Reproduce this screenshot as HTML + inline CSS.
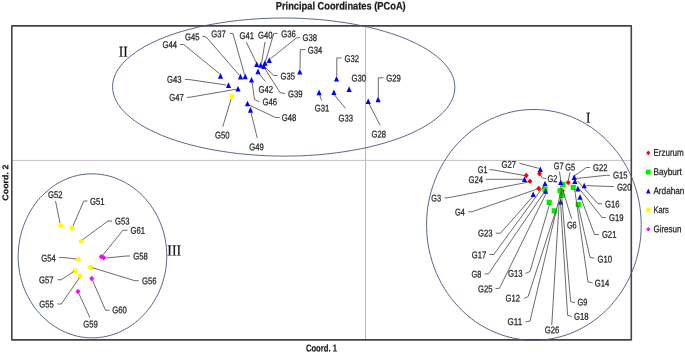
<!DOCTYPE html>
<html><head><meta charset="utf-8"><title>Principal Coordinates (PCoA)</title>
<style>html,body{margin:0;padding:0;background:#fff;}body{width:685px;height:353px;overflow:hidden;font-family:"Liberation Sans",sans-serif;}svg{display:block;}text{font-family:"Liberation Sans",sans-serif;text-rendering:geometricPrecision;}</style></head><body>
<svg width="685" height="353" viewBox="0 0 685 353" style="will-change:transform;transform:translateZ(0)">
<rect x="0" y="0" width="685" height="353" fill="#ffffff"/>
<g stroke-width="1" fill="none"><line x1="365.6" y1="26" x2="365.6" y2="339" stroke="#b8b8b8"/><line x1="12" y1="160.4" x2="631" y2="160.4" stroke="#c2c2c2"/></g>
<rect x="11.8" y="25.9" width="619.5" height="314.0" fill="none" stroke="#444444" stroke-width="1.6" stroke-linejoin="round"/>
<g fill="none" stroke="#46567f" stroke-width="0.9" stroke-linejoin="round">
<path d="M112.6 86.8 L112.8 83.1 L113.5 79.5 L114.7 76.0 L116.3 72.4 L118.5 68.9 L121.0 65.4 L124.0 62.0 L127.4 58.7 L131.3 55.4 L135.6 52.3 L140.3 49.2 L145.3 46.2 L150.8 43.4 L156.6 40.6 L162.8 38.0 L169.3 35.5 L176.1 33.2 L183.2 31.0 L190.6 29.0 L198.3 27.1 L206.1 25.4 L214.2 23.9 L222.5 22.5 L231.0 21.3 L239.6 20.3 L248.3 19.5 L257.1 18.8 L266.0 18.4 L274.9 18.1 L283.9 18.0 L292.8 18.1 L301.7 18.4 L310.6 18.9 L319.4 19.6 L328.1 20.4 L336.7 21.5 L345.2 22.7 L353.4 24.1 L361.5 25.7 L369.4 27.4 L377.1 29.3 L384.4 31.4 L391.5 33.6 L398.3 35.9 L404.8 38.4 L411.0 41.1 L416.8 43.8 L422.3 46.7 L427.3 49.7 L432.0 52.8 L436.3 56.0 L440.1 59.2 L443.6 62.6 L446.5 66.0 L449.1 69.5 L451.2 73.0 L452.8 76.5 L454.0 80.1 L454.6 83.7 L454.9 87.3 L454.6 91.0 L453.9 94.6 L452.8 98.1 L451.1 101.7 L449.0 105.2 L446.5 108.7 L443.5 112.1 L440.0 115.4 L436.2 118.7 L431.9 121.8 L427.2 124.9 L422.1 127.9 L416.7 130.7 L410.8 133.5 L404.7 136.1 L398.2 138.6 L391.4 140.9 L384.2 143.1 L376.9 145.1 L369.2 147.0 L361.3 148.7 L353.2 150.2 L345.0 151.6 L336.5 152.8 L327.9 153.8 L319.2 154.7 L310.4 155.3 L301.5 155.8 L292.6 156.0 L283.6 156.1 L274.7 156.0 L265.7 155.7 L256.8 155.2 L248.0 154.5 L239.3 153.7 L230.7 152.6 L222.3 151.4 L214.0 150.0 L205.9 148.4 L198.1 146.7 L190.4 144.8 L183.0 142.7 L175.9 140.5 L169.1 138.2 L162.6 135.7 L156.5 133.0 L150.7 130.3 L145.2 127.4 L140.1 124.4 L135.4 121.3 L131.2 118.1 L127.3 114.9 L123.9 111.5 L120.9 108.1 L118.4 104.6 L116.3 101.1 L114.7 97.6 L113.5 94.0 L112.8 90.4Z"/>
<path d="M533.0 109.5 L538.6 109.6 L544.2 110.0 L549.8 110.8 L555.3 111.8 L560.8 113.2 L566.2 114.9 L571.5 116.8 L576.7 119.1 L581.8 121.7 L586.7 124.5 L591.6 127.6 L596.2 131.0 L600.7 134.7 L605.0 138.5 L609.1 142.7 L613.0 147.0 L616.7 151.6 L620.2 156.3 L623.4 161.3 L626.4 166.4 L629.1 171.7 L631.6 177.2 L633.8 182.7 L635.7 188.4 L637.3 194.2 L638.7 200.0 L639.8 206.0 L640.5 211.9 L641.0 218.0 L641.2 224.0 L641.1 230.1 L640.8 236.1 L640.1 242.1 L639.1 248.0 L637.8 253.9 L636.3 259.7 L634.5 265.4 L632.3 271.0 L630.0 276.5 L627.3 281.8 L624.4 287.0 L621.3 292.0 L617.9 296.8 L614.3 301.4 L610.5 305.9 L606.4 310.1 L602.2 314.0 L597.8 317.7 L593.1 321.2 L588.4 324.4 L583.5 327.3 L578.4 330.0 L573.2 332.3 L568.0 334.4 L562.6 336.1 L557.1 337.6 L551.6 338.7 L546.1 339.6 L540.5 340.1 L534.9 340.3 L529.2 340.2 L523.6 339.8 L518.0 339.0 L512.5 337.9 L507.0 336.6 L501.6 334.9 L496.3 332.9 L491.1 330.7 L486.0 328.1 L481.1 325.3 L476.2 322.2 L471.6 318.8 L467.1 315.1 L462.8 311.2 L458.7 307.1 L454.8 302.8 L451.1 298.2 L447.6 293.4 L444.4 288.5 L441.4 283.4 L438.7 278.1 L436.2 272.6 L434.0 267.1 L432.1 261.4 L430.5 255.6 L429.1 249.8 L428.0 243.8 L427.2 237.8 L426.8 231.8 L426.6 225.8 L426.7 219.7 L427.1 213.7 L427.7 207.7 L428.7 201.8 L430.0 195.9 L431.5 190.1 L433.4 184.4 L435.5 178.8 L437.8 173.3 L440.5 168.0 L443.4 162.8 L446.5 157.8 L449.9 152.9 L453.5 148.3 L457.3 143.9 L461.4 139.7 L465.6 135.8 L470.0 132.1 L474.6 128.6 L479.4 125.4 L484.3 122.5 L489.4 119.8 L494.6 117.5 L499.8 115.4 L505.2 113.7 L510.6 112.2 L516.2 111.0 L521.7 110.2 L527.3 109.7Z"/>
<path d="M92.8 173.8 L96.7 174.0 L100.6 174.4 L104.4 175.0 L108.2 175.8 L112.0 176.9 L115.7 178.2 L119.3 179.7 L122.9 181.3 L126.4 183.2 L129.8 185.3 L133.1 187.6 L136.2 190.0 L139.3 192.6 L142.2 195.4 L145.1 198.4 L147.7 201.5 L150.2 204.7 L152.6 208.1 L154.8 211.6 L156.8 215.3 L158.7 219.1 L160.4 222.9 L161.9 226.9 L163.2 230.9 L164.3 235.0 L165.2 239.2 L165.9 243.4 L166.4 247.7 L166.7 252.0 L166.8 256.3 L166.6 260.6 L166.3 264.9 L165.8 269.1 L165.0 273.4 L164.0 277.5 L162.9 281.6 L161.6 285.6 L160.0 289.6 L158.3 293.4 L156.4 297.2 L154.3 300.8 L152.1 304.3 L149.7 307.7 L147.2 310.9 L144.5 314.0 L141.6 317.0 L138.7 319.7 L135.6 322.3 L132.4 324.7 L129.1 327.0 L125.6 329.0 L122.1 330.8 L118.5 332.5 L114.9 333.9 L111.2 335.1 L107.4 336.1 L103.5 336.9 L99.7 337.4 L95.8 337.8 L91.9 337.8 L88.0 337.7 L84.2 337.4 L80.3 336.8 L76.5 336.0 L72.7 334.9 L69.0 333.7 L65.4 332.2 L61.8 330.6 L58.3 328.7 L54.9 326.6 L51.6 324.4 L48.4 321.9 L45.3 319.3 L42.4 316.5 L39.6 313.5 L36.9 310.4 L34.4 307.1 L32.0 303.7 L29.9 300.2 L27.9 296.5 L26.0 292.8 L24.4 288.9 L22.9 284.9 L21.6 280.9 L20.5 276.7 L19.6 272.6 L19.0 268.3 L18.5 264.1 L18.2 259.8 L18.2 255.5 L18.3 251.2 L18.7 246.9 L19.2 242.7 L19.9 238.5 L20.9 234.3 L22.0 230.2 L23.4 226.2 L24.9 222.3 L26.6 218.4 L28.4 214.7 L30.5 211.0 L32.7 207.5 L35.0 204.1 L37.5 200.8 L40.2 197.7 L43.0 194.8 L46.0 192.0 L49.1 189.4 L52.3 186.9 L55.6 184.7 L59.0 182.6 L62.5 180.8 L66.1 179.1 L69.8 177.7 L73.5 176.5 L77.3 175.5 L81.2 174.7 L85.0 174.2 L88.9 173.9Z"/>
</g>
<g>
<path d="M539.50 170.80 l2.5 2.8 l-2.5 2.8 l-2.5 -2.8z" fill="#ff0000"/>
<path d="M526.25 172.80 l2.5 2.8 l-2.5 2.8 l-2.5 -2.8z" fill="#ff0000"/>
<path d="M530.00 178.40 l2.5 2.8 l-2.5 2.8 l-2.5 -2.8z" fill="#ff0000"/>
<path d="M538.75 185.80 l2.5 2.8 l-2.5 2.8 l-2.5 -2.8z" fill="#ff0000"/>
<path d="M568.20 179.70 l2.5 2.8 l-2.5 2.8 l-2.5 -2.8z" fill="#ff0000"/>
<path d="M562.40 188.00 l2.5 2.8 l-2.5 2.8 l-2.5 -2.8z" fill="#ff0000"/>
<rect x="542.40" y="186.70" width="5.2" height="5.2" fill="#00f000"/>
<rect x="546.60" y="199.80" width="5.2" height="5.2" fill="#00f000"/>
<rect x="551.65" y="208.20" width="5.2" height="5.2" fill="#00f000"/>
<rect x="560.40" y="181.80" width="5.2" height="5.2" fill="#00f000"/>
<rect x="557.40" y="188.10" width="5.2" height="5.2" fill="#00f000"/>
<rect x="559.40" y="192.80" width="5.2" height="5.2" fill="#00f000"/>
<rect x="570.60" y="184.80" width="5.2" height="5.2" fill="#00f000"/>
<rect x="575.70" y="201.90" width="5.2" height="5.2" fill="#00f000"/>
<path d="M540.30 166.40 l2.6 5.6 l-5.2 0z" fill="#0000ff"/>
<path d="M524.50 176.40 l2.6 5.6 l-5.2 0z" fill="#0000ff"/>
<path d="M533.20 191.50 l2.6 5.6 l-5.2 0z" fill="#0000ff"/>
<path d="M545.00 180.70 l2.6 5.6 l-5.2 0z" fill="#0000ff"/>
<path d="M545.60 188.20 l2.6 5.6 l-5.2 0z" fill="#0000ff"/>
<path d="M560.70 179.50 l2.6 5.6 l-5.2 0z" fill="#0000ff"/>
<path d="M560.60 198.90 l2.6 5.6 l-5.2 0z" fill="#0000ff"/>
<path d="M574.20 174.30 l2.6 5.6 l-5.2 0z" fill="#0000ff"/>
<path d="M574.90 178.50 l2.6 5.6 l-5.2 0z" fill="#0000ff"/>
<path d="M577.90 185.80 l2.6 5.6 l-5.2 0z" fill="#0000ff"/>
<path d="M584.20 182.70 l2.6 5.6 l-5.2 0z" fill="#0000ff"/>
<path d="M580.00 194.20 l2.6 5.6 l-5.2 0z" fill="#0000ff"/>
<path d="M220.50 73.10 l2.6 5.6 l-5.2 0z" fill="#0000ff"/>
<path d="M240.50 73.80 l2.6 5.6 l-5.2 0z" fill="#0000ff"/>
<path d="M245.20 73.60 l2.6 5.6 l-5.2 0z" fill="#0000ff"/>
<path d="M251.50 76.90 l2.6 5.6 l-5.2 0z" fill="#0000ff"/>
<path d="M228.50 82.30 l2.6 5.6 l-5.2 0z" fill="#0000ff"/>
<path d="M238.00 85.90 l2.6 5.6 l-5.2 0z" fill="#0000ff"/>
<path d="M258.00 68.60 l2.6 5.6 l-5.2 0z" fill="#0000ff"/>
<path d="M256.75 61.30 l2.6 5.6 l-5.2 0z" fill="#0000ff"/>
<path d="M260.75 62.10 l2.6 5.6 l-5.2 0z" fill="#0000ff"/>
<path d="M263.75 63.30 l2.6 5.6 l-5.2 0z" fill="#0000ff"/>
<path d="M265.00 60.10 l2.6 5.6 l-5.2 0z" fill="#0000ff"/>
<path d="M269.25 57.30 l2.6 5.6 l-5.2 0z" fill="#0000ff"/>
<path d="M299.80 68.90 l2.6 5.6 l-5.2 0z" fill="#0000ff"/>
<path d="M247.50 100.70 l2.6 5.6 l-5.2 0z" fill="#0000ff"/>
<path d="M250.50 107.10 l2.6 5.6 l-5.2 0z" fill="#0000ff"/>
<path d="M319.10 89.60 l2.6 5.6 l-5.2 0z" fill="#0000ff"/>
<path d="M333.90 89.40 l2.6 5.6 l-5.2 0z" fill="#0000ff"/>
<path d="M336.50 75.90 l2.6 5.6 l-5.2 0z" fill="#0000ff"/>
<path d="M349.10 86.30 l2.6 5.6 l-5.2 0z" fill="#0000ff"/>
<path d="M368.20 98.40 l2.6 5.6 l-5.2 0z" fill="#0000ff"/>
<path d="M378.10 96.60 l2.6 5.6 l-5.2 0z" fill="#0000ff"/>
<circle cx="231.75" cy="96.60" r="2.55" fill="#ffff00"/>
<circle cx="60.75" cy="225.50" r="2.55" fill="#ffff00"/>
<circle cx="72.00" cy="228.00" r="2.55" fill="#ffff00"/>
<circle cx="81.25" cy="241.25" r="2.55" fill="#ffff00"/>
<circle cx="78.00" cy="259.25" r="2.55" fill="#ffff00"/>
<circle cx="75.00" cy="270.75" r="2.55" fill="#ffff00"/>
<circle cx="80.00" cy="276.00" r="2.55" fill="#ffff00"/>
<circle cx="90.50" cy="267.25" r="2.55" fill="#ffff00"/>
<path d="M101.25 253.95 l2.5 2.8 l-2.5 2.8 l-2.5 -2.8z" fill="#ff00ff"/>
<path d="M103.75 254.95 l2.5 2.8 l-2.5 2.8 l-2.5 -2.8z" fill="#ff00ff"/>
<path d="M91.75 275.70 l2.5 2.8 l-2.5 2.8 l-2.5 -2.8z" fill="#ff00ff"/>
<path d="M78.00 288.70 l2.5 2.8 l-2.5 2.8 l-2.5 -2.8z" fill="#ff00ff"/>
</g>
<g fill="none" stroke="#3a3a3a" stroke-width="0.75">
<polyline points="180.00,44.50 183.75,44.50 219.50,73.75"/>
<polyline points="202.50,36.40 206.25,37.00 239.50,75.50"/>
<polyline points="229.50,33.20 233.00,33.75 244.50,74.50"/>
<polyline points="246.25,42.00 256.50,63.00"/>
<polyline points="258.80,73.50 265.50,81.50"/>
<polyline points="265.00,42.00 261.60,63.00"/>
<polyline points="277.50,33.20 273.75,33.75 265.50,61.25"/>
<polyline points="300.00,37.50 296.25,38.00 270.50,58.75"/>
<polyline points="277.50,75.50 273.75,75.50 265.50,67.50"/>
<polyline points="285.00,93.75 280.00,92.50 264.50,68.00"/>
<polyline points="185.00,79.50 188.75,79.50 226.25,85.00"/>
<polyline points="187.00,97.50 191.25,97.00 236.25,89.25"/>
<polyline points="252.00,82.00 254.50,99.50 259.50,101.75"/>
<polyline points="305.50,49.60 300.30,49.60 300.00,69.00"/>
<polyline points="341.50,57.90 336.80,57.90 336.80,76.00"/>
<polyline points="383.50,77.80 378.30,77.80 378.30,97.00"/>
<polyline points="319.70,95.20 321.70,100.60"/>
<polyline points="334.40,94.80 345.60,108.50"/>
<polyline points="369.20,104.00 380.20,125.40"/>
<polyline points="231.00,99.25 222.75,126.75"/>
<polyline points="251.00,112.50 257.25,138.00"/>
<polyline points="249.00,105.00 275.50,117.50 279.75,117.50"/>
<polyline points="55.50,201.00 60.00,223.00"/>
<polyline points="87.50,201.00 83.75,201.00 73.00,226.00"/>
<polyline points="112.00,221.00 108.00,221.00 82.50,239.75"/>
<polyline points="127.50,230.25 123.00,230.25 102.50,255.50"/>
<polyline points="130.00,256.00 126.25,256.00 106.25,258.00"/>
<polyline points="59.25,257.50 63.75,257.50 76.25,259.00"/>
<polyline points="57.50,279.75 61.25,279.75 73.75,271.50"/>
<polyline points="57.50,304.00 61.25,304.00 79.50,277.75"/>
<polyline points="138.75,280.75 135.00,280.75 92.50,267.75"/>
<polyline points="109.50,310.25 105.50,310.25 92.50,280.25"/>
<polyline points="78.75,293.25 90.00,317.75"/>
<polyline points="489.50,169.50 493.75,170.00 524.50,175.50"/>
<polyline points="485.75,179.30 523.00,179.30"/>
<polyline points="519.30,163.20 538.60,168.30"/>
<polyline points="444.50,198.00 449.50,197.50 528.75,182.00"/>
<polyline points="468.25,211.75 472.00,211.75 538.00,188.75"/>
<polyline points="495.75,233.20 500.50,233.20 533.00,196.25"/>
<polyline points="489.40,254.50 493.80,254.50 544.50,185.00"/>
<polyline points="484.50,274.00 488.50,273.75 545.00,191.00"/>
<polyline points="495.50,288.50 499.50,288.30 546.30,193.00"/>
<polyline points="525.50,273.50 530.00,271.50 549.60,204.00"/>
<polyline points="524.25,298.50 528.20,296.50 555.20,212.50"/>
<polyline points="525.50,322.00 530.00,321.00 560.60,192.50"/>
<polyline points="551.75,325.25 559.10,203.50"/>
<polyline points="575.00,302.75 570.60,301.50 560.80,186.00"/>
<polyline points="571.75,316.50 567.60,315.25 560.20,197.00"/>
<polyline points="592.50,282.75 588.00,282.00 574.60,189.00"/>
<polyline points="594.25,258.20 590.00,257.40 578.30,206.00"/>
<polyline points="598.75,234.50 594.50,234.50 581.25,198.75"/>
<polyline points="605.75,217.50 602.00,217.50 580.00,189.50"/>
<polyline points="602.00,203.75 598.00,203.75 577.50,181.00"/>
<polyline points="613.75,186.50 610.00,186.50 586.25,185.60"/>
<polyline points="610.00,175.30 606.25,175.30 576.25,178.50"/>
<polyline points="590.00,167.50 586.25,167.50 575.00,175.50"/>
<polyline points="559.50,171.50 560.75,180.50"/>
<polyline points="570.00,172.50 568.25,180.50"/>
<polyline points="540.00,174.50 542.50,178.00 546.25,178.75"/>
<polyline points="563.40,192.00 571.50,218.50"/>
</g>
<g font-size="9.7" fill="#1e1e1e" stroke="#1e1e1e" stroke-width="0.25">
<text transform="rotate(0.1 162.50 48.00)" x="162.50" y="48.00" textLength="14.5" lengthAdjust="spacingAndGlyphs">G44</text>
<text transform="rotate(0.1 185.00 40.25)" x="185.00" y="40.25" textLength="14.5" lengthAdjust="spacingAndGlyphs">G45</text>
<text transform="rotate(0.1 211.25 37.25)" x="211.25" y="37.25" textLength="14.5" lengthAdjust="spacingAndGlyphs">G37</text>
<text transform="rotate(0.1 239.50 39.00)" x="239.50" y="39.00" textLength="14.5" lengthAdjust="spacingAndGlyphs">G41</text>
<text transform="rotate(0.1 258.00 38.50)" x="258.00" y="38.50" textLength="14.5" lengthAdjust="spacingAndGlyphs">G40</text>
<text transform="rotate(0.1 281.25 37.25)" x="281.25" y="37.25" textLength="14.5" lengthAdjust="spacingAndGlyphs">G36</text>
<text transform="rotate(0.1 302.50 41.00)" x="302.50" y="41.00" textLength="14.5" lengthAdjust="spacingAndGlyphs">G38</text>
<text transform="rotate(0.1 307.80 53.50)" x="307.80" y="53.50" textLength="14.5" lengthAdjust="spacingAndGlyphs">G34</text>
<text transform="rotate(0.1 280.50 79.50)" x="280.50" y="79.50" textLength="14.5" lengthAdjust="spacingAndGlyphs">G35</text>
<text transform="rotate(0.1 258.60 92.80)" x="258.60" y="92.80" textLength="14.5" lengthAdjust="spacingAndGlyphs">G42</text>
<text transform="rotate(0.1 288.00 97.25)" x="288.00" y="97.25" textLength="14.5" lengthAdjust="spacingAndGlyphs">G39</text>
<text transform="rotate(0.1 262.50 105.25)" x="262.50" y="105.25" textLength="14.5" lengthAdjust="spacingAndGlyphs">G46</text>
<text transform="rotate(0.1 167.00 82.70)" x="167.00" y="82.70" textLength="14.5" lengthAdjust="spacingAndGlyphs">G43</text>
<text transform="rotate(0.1 169.25 100.80)" x="169.25" y="100.80" textLength="14.5" lengthAdjust="spacingAndGlyphs">G47</text>
<text transform="rotate(0.1 281.75 121.00)" x="281.75" y="121.00" textLength="14.5" lengthAdjust="spacingAndGlyphs">G48</text>
<text transform="rotate(0.1 314.80 111.50)" x="314.80" y="111.50" textLength="14.5" lengthAdjust="spacingAndGlyphs">G31</text>
<text transform="rotate(0.1 215.00 138.50)" x="215.00" y="138.50" textLength="14.5" lengthAdjust="spacingAndGlyphs">G50</text>
<text transform="rotate(0.1 249.25 150.25)" x="249.25" y="150.25" textLength="14.5" lengthAdjust="spacingAndGlyphs">G49</text>
<text transform="rotate(0.1 344.60 62.10)" x="344.60" y="62.10" textLength="14.5" lengthAdjust="spacingAndGlyphs">G32</text>
<text transform="rotate(0.1 351.50 81.60)" x="351.50" y="81.60" textLength="14.5" lengthAdjust="spacingAndGlyphs">G30</text>
<text transform="rotate(0.1 386.20 81.60)" x="386.20" y="81.60" textLength="14.5" lengthAdjust="spacingAndGlyphs">G29</text>
<text transform="rotate(0.1 338.50 121.50)" x="338.50" y="121.50" textLength="14.5" lengthAdjust="spacingAndGlyphs">G33</text>
<text transform="rotate(0.1 371.60 137.50)" x="371.60" y="137.50" textLength="14.5" lengthAdjust="spacingAndGlyphs">G28</text>
<text transform="rotate(0.1 48.00 198.10)" x="48.00" y="198.10" textLength="14.5" lengthAdjust="spacingAndGlyphs">G52</text>
<text transform="rotate(0.1 90.00 204.70)" x="90.00" y="204.70" textLength="14.5" lengthAdjust="spacingAndGlyphs">G51</text>
<text transform="rotate(0.1 115.00 224.50)" x="115.00" y="224.50" textLength="14.5" lengthAdjust="spacingAndGlyphs">G53</text>
<text transform="rotate(0.1 130.50 233.75)" x="130.50" y="233.75" textLength="14.5" lengthAdjust="spacingAndGlyphs">G61</text>
<text transform="rotate(0.1 133.25 259.50)" x="133.25" y="259.50" textLength="14.5" lengthAdjust="spacingAndGlyphs">G58</text>
<text transform="rotate(0.1 41.25 261.50)" x="41.25" y="261.50" textLength="14.5" lengthAdjust="spacingAndGlyphs">G54</text>
<text transform="rotate(0.1 39.10 283.20)" x="39.10" y="283.20" textLength="14.5" lengthAdjust="spacingAndGlyphs">G57</text>
<text transform="rotate(0.1 39.25 307.50)" x="39.25" y="307.50" textLength="14.5" lengthAdjust="spacingAndGlyphs">G55</text>
<text transform="rotate(0.1 142.00 284.25)" x="142.00" y="284.25" textLength="14.5" lengthAdjust="spacingAndGlyphs">G56</text>
<text transform="rotate(0.1 112.30 313.20)" x="112.30" y="313.20" textLength="14.5" lengthAdjust="spacingAndGlyphs">G60</text>
<text transform="rotate(0.1 83.25 327.50)" x="83.25" y="327.50" textLength="14.5" lengthAdjust="spacingAndGlyphs">G59</text>
<text transform="rotate(0.1 477.80 173.10)" x="477.80" y="173.10" textLength="9.8" lengthAdjust="spacingAndGlyphs">G1</text>
<text transform="rotate(0.1 468.50 183.10)" x="468.50" y="183.10" textLength="14.5" lengthAdjust="spacingAndGlyphs">G24</text>
<text transform="rotate(0.1 501.50 167.80)" x="501.50" y="167.80" textLength="14.5" lengthAdjust="spacingAndGlyphs">G27</text>
<text transform="rotate(0.1 431.25 201.50)" x="431.25" y="201.50" textLength="9.8" lengthAdjust="spacingAndGlyphs">G3</text>
<text transform="rotate(0.1 455.00 215.60)" x="455.00" y="215.60" textLength="9.8" lengthAdjust="spacingAndGlyphs">G4</text>
<text transform="rotate(0.1 478.10 236.40)" x="478.10" y="236.40" textLength="14.5" lengthAdjust="spacingAndGlyphs">G23</text>
<text transform="rotate(0.1 471.70 258.30)" x="471.70" y="258.30" textLength="14.5" lengthAdjust="spacingAndGlyphs">G17</text>
<text transform="rotate(0.1 471.60 277.60)" x="471.60" y="277.60" textLength="9.8" lengthAdjust="spacingAndGlyphs">G8</text>
<text transform="rotate(0.1 478.00 292.30)" x="478.00" y="292.30" textLength="14.5" lengthAdjust="spacingAndGlyphs">G25</text>
<text transform="rotate(0.1 508.00 276.70)" x="508.00" y="276.70" textLength="14.5" lengthAdjust="spacingAndGlyphs">G13</text>
<text transform="rotate(0.1 505.60 301.50)" x="505.60" y="301.50" textLength="14.5" lengthAdjust="spacingAndGlyphs">G12</text>
<text transform="rotate(0.1 507.60 324.90)" x="507.60" y="324.90" textLength="14.5" lengthAdjust="spacingAndGlyphs">G11</text>
<text transform="rotate(0.1 544.75 333.30)" x="544.75" y="333.30" textLength="14.5" lengthAdjust="spacingAndGlyphs">G26</text>
<text transform="rotate(0.1 577.50 305.40)" x="577.50" y="305.40" textLength="9.8" lengthAdjust="spacingAndGlyphs">G9</text>
<text transform="rotate(0.1 574.10 319.70)" x="574.10" y="319.70" textLength="14.5" lengthAdjust="spacingAndGlyphs">G18</text>
<text transform="rotate(0.1 594.80 286.60)" x="594.80" y="286.60" textLength="14.5" lengthAdjust="spacingAndGlyphs">G14</text>
<text transform="rotate(0.1 597.50 262.50)" x="597.50" y="262.50" textLength="14.5" lengthAdjust="spacingAndGlyphs">G10</text>
<text transform="rotate(0.1 601.90 237.70)" x="601.90" y="237.70" textLength="14.5" lengthAdjust="spacingAndGlyphs">G21</text>
<text transform="rotate(0.1 609.00 220.90)" x="609.00" y="220.90" textLength="14.5" lengthAdjust="spacingAndGlyphs">G19</text>
<text transform="rotate(0.1 605.00 207.50)" x="605.00" y="207.50" textLength="14.5" lengthAdjust="spacingAndGlyphs">G16</text>
<text transform="rotate(0.1 616.90 190.40)" x="616.90" y="190.40" textLength="14.5" lengthAdjust="spacingAndGlyphs">G20</text>
<text transform="rotate(0.1 613.00 178.50)" x="613.00" y="178.50" textLength="14.5" lengthAdjust="spacingAndGlyphs">G15</text>
<text transform="rotate(0.1 593.10 171.00)" x="593.10" y="171.00" textLength="14.5" lengthAdjust="spacingAndGlyphs">G22</text>
<text transform="rotate(0.1 553.80 169.20)" x="553.80" y="169.20" textLength="9.8" lengthAdjust="spacingAndGlyphs">G7</text>
<text transform="rotate(0.1 565.20 170.50)" x="565.20" y="170.50" textLength="9.8" lengthAdjust="spacingAndGlyphs">G5</text>
<text transform="rotate(0.1 547.60 182.10)" x="547.60" y="182.10" textLength="9.8" lengthAdjust="spacingAndGlyphs">G2</text>
<text transform="rotate(0.1 566.90 228.50)" x="566.90" y="228.50" textLength="9.8" lengthAdjust="spacingAndGlyphs">G6</text>
</g>
<g font-size="15.2" fill="#111" stroke="#111" stroke-width="0.2" style="font-family:'Liberation Serif',serif">
<text transform="rotate(0.1 118.7 56.7)" x="118.7" y="56.7" textLength="9.0" lengthAdjust="spacingAndGlyphs" style="font-family:'Liberation Serif',serif">II</text>
<text transform="rotate(0.1 585.9 122.7)" x="585.9" y="122.7" textLength="4.4" lengthAdjust="spacingAndGlyphs" style="font-family:'Liberation Serif',serif">I</text>
<text transform="rotate(0.1 167.3 255.4)" x="167.3" y="255.4" textLength="13.8" lengthAdjust="spacingAndGlyphs" style="font-family:'Liberation Serif',serif">III</text>
</g>
<text transform="rotate(0.05 275.8 9.4)" x="275.8" y="9.4" font-size="10.8" font-weight="bold" fill="#1a1a1a" stroke="#1a1a1a" stroke-width="0.25" textLength="129.9" lengthAdjust="spacingAndGlyphs">Principal Coordinates (PCoA)</text>
<text transform="rotate(0.1 305.9 351.5)" x="305.9" y="351.5" font-size="10.0" font-weight="bold" fill="#1a1a1a" stroke="#1a1a1a" stroke-width="0.2" textLength="31.1" lengthAdjust="spacingAndGlyphs">Coord. 1</text>
<text transform="translate(8.3,200.7) rotate(-89.9)" font-size="8.4" font-weight="bold" fill="#1a1a1a" stroke="#1a1a1a" stroke-width="0.2" textLength="36.1" lengthAdjust="spacingAndGlyphs">Coord. 2</text>
<g font-size="9.7" fill="#1e1e1e">
<path d="M648.3 150.60 l2.1 2.3 l-2.1 2.3 l-2.1 -2.3z" fill="#ff0000"/>
<text transform="rotate(0.1 653.4 155.80)" x="653.4" y="155.80" textLength="30.3" lengthAdjust="spacingAndGlyphs" stroke="#1e1e1e" stroke-width="0.25">Erzurum</text>
<rect x="646" y="169.75" width="4.7" height="4.7" fill="#00f000"/>
<text transform="rotate(0.1 653.4 175.00)" x="653.4" y="175.00" textLength="28.5" lengthAdjust="spacingAndGlyphs" stroke="#1e1e1e" stroke-width="0.25">Bayburt</text>
<path d="M648.3 188.60 l2.3 4.8 l-4.6 0z" fill="#0000ff"/>
<text transform="rotate(0.1 653.4 194.00)" x="653.4" y="194.00" textLength="31.0" lengthAdjust="spacingAndGlyphs" stroke="#1e1e1e" stroke-width="0.25">Ardahan</text>
<circle cx="648.4" cy="210.10" r="2.4" fill="#ffff00"/>
<text transform="rotate(0.1 653.4 213.00)" x="653.4" y="213.00" textLength="15.5" lengthAdjust="spacingAndGlyphs" stroke="#1e1e1e" stroke-width="0.25">Kars</text>
<path d="M648.3 227.00 l2.1 2.3 l-2.1 2.3 l-2.1 -2.3z" fill="#ff00ff"/>
<text transform="rotate(0.1 653.4 232.20)" x="653.4" y="232.20" textLength="28.1" lengthAdjust="spacingAndGlyphs" stroke="#1e1e1e" stroke-width="0.25">Giresun</text>
</g>
</svg></body></html>
